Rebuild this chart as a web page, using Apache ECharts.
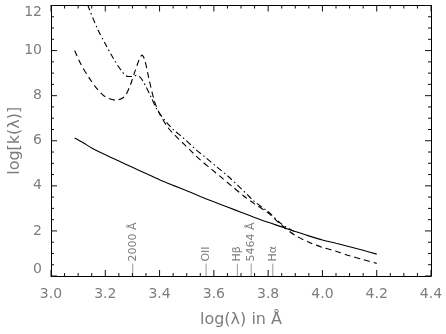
<!DOCTYPE html>
<html>
<head>
<meta charset="utf-8">
<style>
  html, body { margin: 0; padding: 0; background: #fff; }
  #chart { width: 446px; height: 334px; }
</style>
<script src="https://cdn.jsdelivr.net/npm/echarts@6/dist/echarts.min.js"></script>
</head>
<body>
<div id="chart"></div>
<script>
// Extinction curves: log k(lambda) against log wavelength
const solidLogLam = [3.087, 3.12, 3.15, 3.2, 3.25, 3.3, 3.35, 3.4, 3.45, 3.5, 3.55, 3.6, 3.65, 3.7, 3.75, 3.8, 3.85, 3.9, 3.95, 4.0, 4.05, 4.1, 4.15, 4.2];
const solidLogK   = [6.12, 5.9, 5.68, 5.38, 5.1, 4.82, 4.55, 4.27, 4.02, 3.78, 3.53, 3.29, 3.06, 2.83, 2.6, 2.38, 2.18, 1.97, 1.78, 1.6, 1.45, 1.3, 1.14, 0.97];

const dashedLogLam = [3.087, 3.11, 3.14, 3.17, 3.2, 3.24, 3.27, 3.29, 3.31, 3.325, 3.335, 3.345, 3.36, 3.38, 3.4, 3.43, 3.46, 3.49, 3.52, 3.55, 3.59, 3.63, 3.67, 3.71, 3.75, 3.8, 3.85, 3.9, 3.95, 4.0, 4.05, 4.1, 4.15, 4.2];
const dashedLogK   = [10.0, 9.4, 8.8, 8.3, 7.95, 7.8, 7.95, 8.4, 9.1, 9.6, 9.8, 9.6, 8.8, 7.8, 7.2, 6.6, 6.2, 5.85, 5.5, 5.15, 4.75, 4.35, 3.95, 3.55, 3.2, 2.8, 2.25, 1.8, 1.5, 1.27, 1.1, 0.9, 0.73, 0.56];

const dashDotLogLam = [3.12, 3.136, 3.17, 3.2, 3.23, 3.26, 3.284, 3.3, 3.315, 3.33, 3.35, 3.37, 3.39, 3.42, 3.45, 3.49, 3.53, 3.57, 3.61, 3.65, 3.69, 3.72, 3.75, 3.8, 3.85, 3.9];
const dashDotLogK   = [12.6, 12.0, 11.0, 10.3, 9.65, 9.1, 8.85, 8.85, 8.9, 8.8, 8.4, 7.9, 7.4, 6.9, 6.5, 6.1, 5.65, 5.25, 4.85, 4.45, 4.0, 3.65, 3.3, 2.85, 2.3, 1.95];

// Reference wavelengths marked along the bottom axis
const markerNames  = ['2000 Å', 'OII', 'Hβ', '5464 Å', 'Hα'];
const markerLambda = [2000, 3727, 4861, 5464, 6563];
const markerHeight = [0.55, 0.55, 0.55, 0.55, 0.55];

// Axis ranges and tick positions for the boxed frame
const xTicks = { min: 3.0, max: 4.4, interval: 0.2 };
const yTicks = { min: 0, max: 12, interval: 2 };
const xMajorTicks = [3.0, 3.2, 3.4, 3.6, 3.8, 4.0, 4.2, 4.4];
const xMinorTicks = [3.05, 3.1, 3.15, 3.25, 3.3, 3.35, 3.45, 3.5, 3.55, 3.65, 3.7, 3.75,
                     3.85, 3.9, 3.95, 4.05, 4.1, 4.15, 4.25, 4.3, 4.35];
const yMajorTicks = [0, 2, 4, 6, 8, 10, 12];
const yMinorTicks = [0.5, 1, 1.5, 2.5, 3, 3.5, 4.5, 5, 5.5, 6.5, 7, 7.5,
                     8.5, 9, 9.5, 10.5, 11, 11.5];

const pairs = (xs, ys) => xs.map((x, i) => [x, ys[i]]);

const grey = '#7d7d7d';
const tickColor = '#111111';
const font = 'DejaVu Sans';
const majorLen = 6;
const minorLen = 3;

function frameAxis(extra) {
  return Object.assign({
    type: 'value',
    axisLine: { show: true, onZero: false, lineStyle: { color: '#000' } },
    axisTick: { show: false },
    splitLine: { show: false }
  }, extra);
}

// Inward ticks on the bottom and top edges, placed through the x scale
function xTickItem(params, api) {
  const v = api.value(0);
  const len = api.value(1) > 0 ? majorLen : minorLen;
  const b = api.coord([v, yTicks.min]);
  const t = api.coord([v, yTicks.max]);
  return {
    type: 'group',
    children: [
      { type: 'rect', shape: { x: b[0] - 0.5, y: b[1] - len, width: 1, height: len },
        style: { fill: tickColor } },
      { type: 'rect', shape: { x: t[0] - 0.5, y: t[1], width: 1, height: len },
        style: { fill: tickColor } }
    ]
  };
}

// Inward ticks on the left and right edges, placed through the y scale
function yTickItem(params, api) {
  const v = api.value(1);
  const len = api.value(0) > xTicks.min ? majorLen : minorLen;
  const l = api.coord([xTicks.min, v]);
  const r = api.coord([xTicks.max, v]);
  return {
    type: 'group',
    children: [
      { type: 'rect', shape: { x: l[0], y: l[1] - 0.5, width: len, height: 1 },
        style: { fill: tickColor } },
      { type: 'rect', shape: { x: r[0] - len, y: r[1] - 0.5, width: len, height: 1 },
        style: { fill: tickColor } }
    ]
  };
}

const chart = echarts.init(document.getElementById('chart'), null, { renderer: 'canvas' });

chart.setOption({
  animation: false,
  grid: { left: 51, right: 15, top: 5.5, bottom: 58, containLabel: false, outerBoundsMode: 'none' },
  xAxis: [
    frameAxis({
      min: xTicks.min, max: xTicks.max, interval: xTicks.interval,
      position: 'bottom',
      name: 'log(λ) in Å', nameLocation: 'middle', nameGap: 36,
      nameTextStyle: { color: grey, fontSize: 16, fontFamily: font },
      axisLabel: { color: grey, fontSize: 14, fontFamily: font, margin: 11,
        formatter: v => v.toFixed(1) }
    }),
    frameAxis({
      min: xTicks.min, max: xTicks.max, interval: xTicks.interval,
      position: 'top',
      axisLabel: { show: false }
    })
  ],
  yAxis: [
    frameAxis({
      min: yTicks.min, max: yTicks.max, interval: yTicks.interval,
      position: 'left',
      name: 'log[k(λ)]', nameLocation: 'middle', nameGap: 28, nameMoveOverlap: false,
      nameTextStyle: { color: grey, fontSize: 16, fontFamily: font },
      axisLabel: { color: grey, fontSize: 14, fontFamily: font, margin: 9,
        verticalAlignMinLabel: 'bottom', verticalAlignMaxLabel: 'top' }
    }),
    frameAxis({
      min: yTicks.min, max: yTicks.max, interval: yTicks.interval,
      position: 'right',
      axisLabel: { show: false }
    })
  ],
  series: [
    {
      type: 'line', name: 'solid', data: pairs(solidLogLam, solidLogK),
      smooth: 0.3, symbol: 'none', clip: true,
      lineStyle: { color: '#000', width: 1.1 }
    },
    {
      type: 'line', name: 'dashed', data: pairs(dashedLogLam, dashedLogK),
      smooth: 0.3, symbol: 'none', clip: true,
      lineStyle: { color: '#000', width: 1.1, type: [6, 4] }
    },
    {
      type: 'line', name: 'dashdot', data: pairs(dashDotLogLam, dashDotLogK),
      smooth: 0.3, symbol: 'none', clip: true,
      lineStyle: { color: '#000', width: 1.1, type: [6, 3, 1.5, 3] }
    },
    {
      type: 'custom', name: 'markers',
      data: markerLambda.map((l, i) => [Math.log10(l), markerHeight[i]]),
      renderItem: function (params, api) {
        const x = api.value(0);
        const base = api.coord([x, 0]);
        const top = api.coord([x, api.value(1)]);
        return {
          type: 'group',
          children: [
            { type: 'line',
              shape: { x1: base[0], y1: base[1], x2: top[0], y2: top[1] },
              style: { stroke: '#9a9a9a', lineWidth: 1 } },
            { type: 'text',
              x: top[0], y: top[1] - 2, rotation: Math.PI / 2,
              style: { text: markerNames[params.dataIndex], fill: grey,
                font: '11px "' + font + '"', align: 'left', verticalAlign: 'middle' } }
          ]
        };
      }
    },
    {
      type: 'custom', name: 'xFrameTicks', silent: true, zlevel: 1,
      data: xMajorTicks.map(v => [v, 1]).concat(xMinorTicks.map(v => [v, 0])),
      renderItem: xTickItem
    },
    {
      type: 'custom', name: 'yFrameTicks', silent: true, zlevel: 1,
      data: yMajorTicks.map(v => [xTicks.min + 0.1, v]).concat(yMinorTicks.map(v => [xTicks.min, v])),
      renderItem: yTickItem
    }
  ]
});
</script>
</body>
</html>
